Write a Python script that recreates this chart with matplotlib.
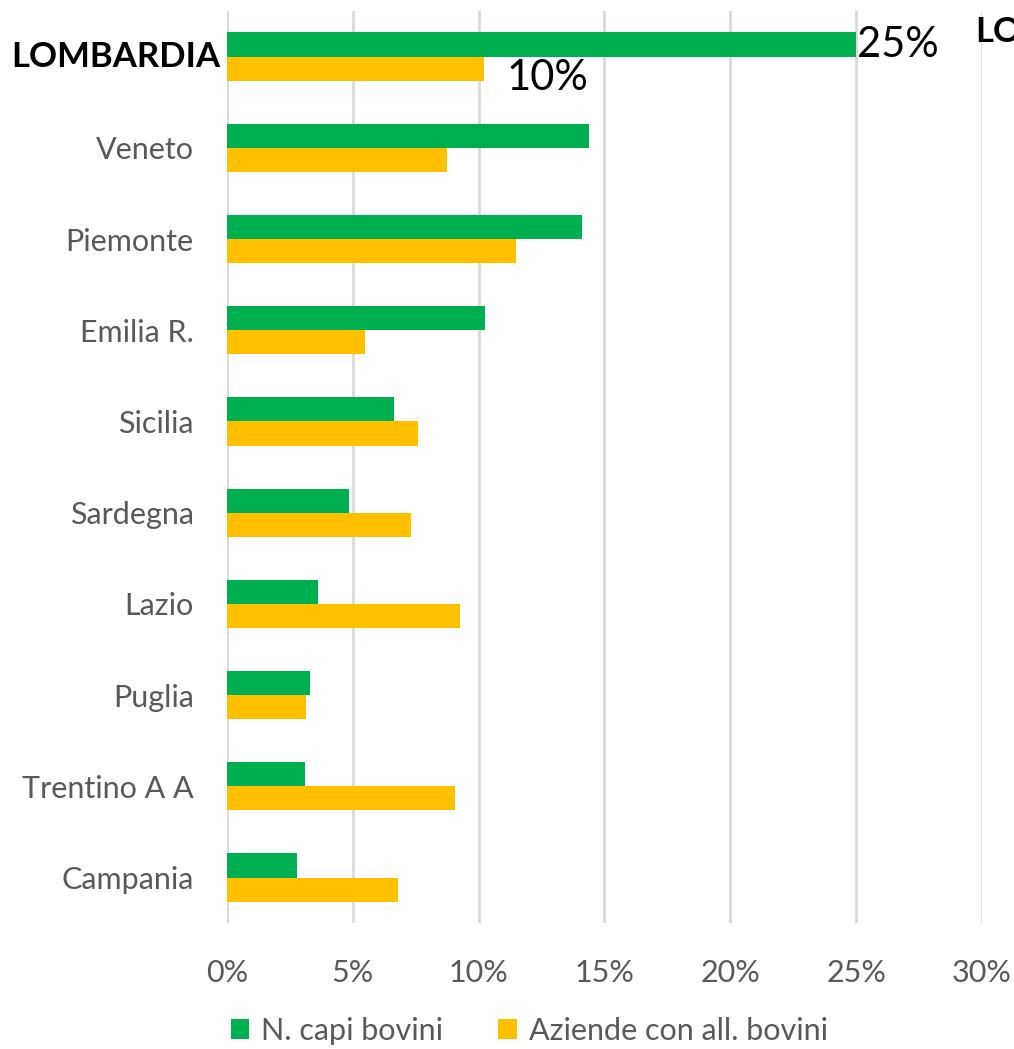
import matplotlib.pyplot as plt
import numpy as np

regions = ['LOMBARDIA', 'Veneto', 'Piemonte', 'Emilia R.', 'Sicilia', 'Sardegna',
           'Lazio', 'Puglia', 'Trentino A A', 'Campania']
capi_bovini = [25.0, 14.4, 14.1, 10.25, 6.65, 4.85, 3.6, 3.3, 3.1, 2.8]
aziende_bovini = [10.2, 8.75, 11.5, 5.5, 7.6, 7.3, 9.25, 3.15, 9.05, 6.8]
x_ticks = [0, 5, 10, 15, 20, 25, 30]

GREEN = '#00B050'
ORANGE = '#FFC000'
GREY = '#595959'

plt.rcParams['font.family'] = ['Lato', 'DejaVu Sans']

fig = plt.figure(figsize=(10.14, 10.49), dpi=100)
ax = fig.add_axes([0.2239, 0.120, 0.9684 - 0.2239, 0.9895 - 0.120])

y = np.arange(len(regions))
h = 0.265
ax.barh(y - h / 2, capi_bovini, height=h, color=GREEN, label='N. capi bovini', zorder=3)
ax.barh(y + h / 2, aziende_bovini, height=h, color=ORANGE,
        label='Aziende con all. bovini', zorder=3)

ax.set_ylim(len(regions) - 0.5, -0.5)
ax.set_xlim(0, 30)
ax.set_xticks(x_ticks)
ax.set_xticklabels([f'{t}%' for t in x_ticks], fontsize=22, color=GREY)
ax.set_yticks(y)
ax.set_yticklabels([''] + regions[1:], fontsize=22, color=GREY)
ax.tick_params(axis='both', length=0)
ax.tick_params(axis='y', pad=24)
ax.tick_params(axis='x', pad=26)

ax.grid(axis='x', color='#d9d9d9', linewidth=2, zorder=0)
for s in ax.spines.values():
    s.set_visible(False)

# Lombardia highlight
ax.text(-0.25, 0, regions[0], ha='right', va='center', fontsize=25,
        fontweight='bold', color='black')
ax.text(capi_bovini[0] + 0.05, -h / 2, f'{capi_bovini[0]:.0f}%', ha='left',
        va='center', fontsize=30, color='black')
ax.text(aziende_bovini[0] + 0.9, h / 2 + 0.1, f'{aziende_bovini[0]:.0f}%', ha='left',
        va='center', fontsize=30, color='black')
ax.text(29.75, -0.27, 'LO', ha='left', va='center', fontsize=25,
        fontweight='bold', color='black', clip_on=False)

fig.legend(loc='lower center', bbox_to_anchor=(0.522, -0.022), ncol=2, frameon=False,
           fontsize=22, labelcolor=GREY, handlelength=0.6, handleheight=0.6,
           columnspacing=1.8, handletextpad=0.4)

fig.savefig('out.png', dpi=100)
